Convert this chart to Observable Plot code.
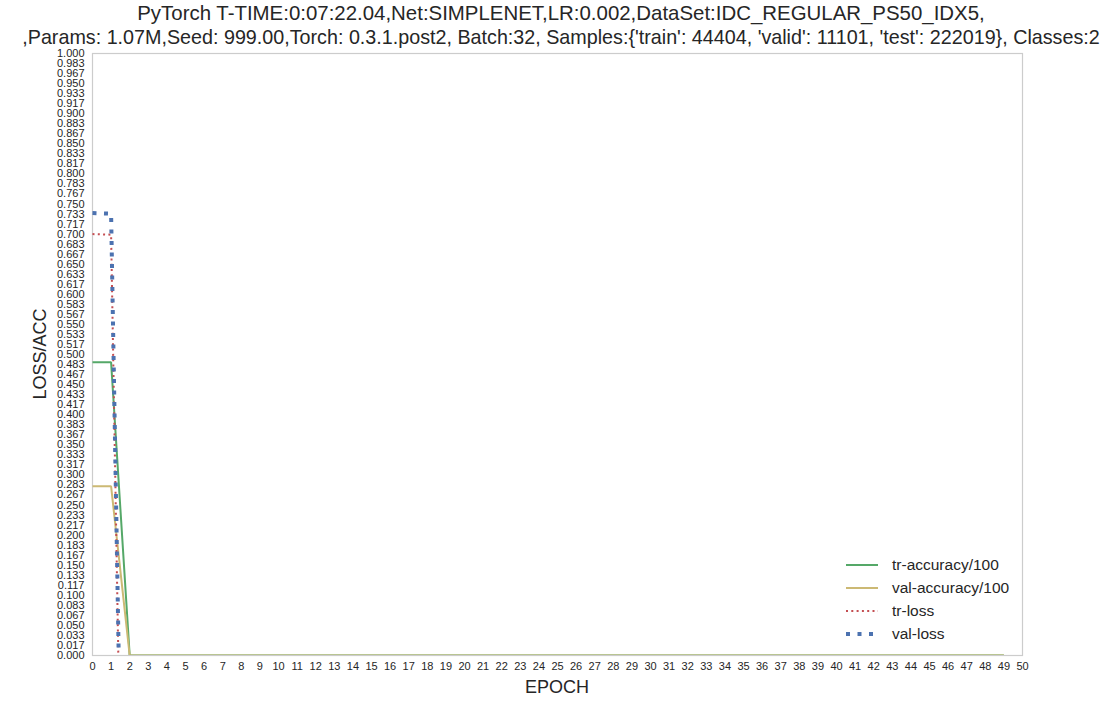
<!DOCTYPE html>
<html>
<head>
<meta charset="utf-8">
<script src="https://cdn.jsdelivr.net/npm/d3@7"></script>
<script src="https://cdn.jsdelivr.net/npm/@observablehq/plot@0.6"></script>
<style>
  html, body { margin: 0; padding: 0; background: #fff; }
  body { font-family: "Liberation Sans", Arial, sans-serif; color: #262626; }
  #wrap { position: relative; width: 1113px; height: 703px; overflow: hidden; }
  #title { height: 48px; width: 1113px; padding-left: 9px; text-align: center; font-size: 20.5px; line-height: 23px; padding-top: 1px; box-sizing: border-box; white-space: nowrap; }
  #title span { display: inline-block; }
  .axlabel { position: absolute; font-size: 18px; white-space: nowrap; }
  #legend { position: absolute; left: 846px; top: 553px; font-size: 15.5px; }
  #legend .row { display: flex; align-items: center; height: 23px; }
  #legend svg { margin-right: 14px; }
</style>
</head>
<body>
<div id="wrap">
  <div id="title"></div>
  <div id="chart"></div>
  <div class="axlabel" id="xlab" style="left:557px; top:677px; transform:translateX(-50%);">EPOCH</div>
  <div class="axlabel" id="ylab" style="left:40px; top:354px; transform:translate(-50%,-50%) rotate(-90deg);">LOSS/ACC</div>
  <div id="legend"></div>
</div>
<script>
// ---- data ----
const titleLines = [
  "PyTorch T-TIME:0:07:22.04,Net:SIMPLENET,LR:0.002,DataSet:IDC_REGULAR_PS50_IDX5,",
  ",Params: 1.07M,Seed: 999.00,Torch: 0.3.1.post2, Batch:32, Samples:{'train': 44404, 'valid': 11101, 'test': 222019}, Classes:2"
];
const epochs = [0,1,2,3,4,5,6,7,8,9,10,11,12,13,14,15,16,17,18,19,20,21,22,23,24,25,26,27,28,29,30,31,32,33,34,35,36,37,38,39,40,41,42,43,44,45,46,47,48,49];
const trAcc  = [0.487,0.487,0,0,0,0,0,0,0,0,0,0,0,0,0,0,0,0,0,0,0,0,0,0,0,0,0,0,0,0,0,0,0,0,0,0,0,0,0,0,0,0,0,0,0,0,0,0,0,0];
const valAcc = [0.281,0.281,0,0,0,0,0,0,0,0,0,0,0,0,0,0,0,0,0,0,0,0,0,0,0,0,0,0,0,0,0,0,0,0,0,0,0,0,0,0,0,0,0,0,0,0,0,0,0,0];
const lossEpochs = [0,1,2];
const trLoss  = [0.700,0.699,-1.10];
const valLoss = [0.735,0.734,-1.06];
const seriesNames = ["tr-accuracy/100","val-accuracy/100","tr-loss","val-loss"];
const seriesColors = ["#55A868","#CCB974","#C44E52","#4C72B0"];
const xTicks = d3.range(0, 51);
const yTicks = d3.range(0, 61).map(i => i / 60);

// ---- build ----
const titleEl = document.getElementById("title");
const titleTargets = [848, 1078];
titleLines.forEach((t, i) => {
  const line = document.createElement("div");
  const span = document.createElement("span");
  span.textContent = t;
  line.appendChild(span);
  titleEl.appendChild(line);
  const w = span.getBoundingClientRect().width;
  if (w > 0) span.style.fontSize = (20.5 * titleTargets[i] / w).toFixed(2) + "px";
});

const styles = [
  {strokeWidth: 2, strokeDasharray: null},
  {strokeWidth: 2, strokeDasharray: null},
  {strokeWidth: 2, strokeDasharray: "2,3.3"},
  {strokeWidth: 4, strokeDasharray: "4,7.5"}
];
const rows = (xs, ys) => xs.map((x, i) => ({x, y: ys[i]}));
const sets = [rows(epochs, trAcc), rows(epochs, valAcc), rows(lossEpochs, trLoss), rows(lossEpochs, valLoss)];

const chart = Plot.plot({
  width: 1113,
  height: 655,
  marginLeft: 92,
  marginRight: 91,
  marginTop: 5,
  marginBottom: 48,
  style: {fontFamily: "'Liberation Sans', Arial, sans-serif", fontSize: "11px", color: "#262626", background: "#fff"},
  x: {domain: [0, 50]},
  y: {domain: [0, 1]},
  marks: [
    Plot.frame({stroke: "#cccccc", strokeWidth: 1.2}),
    Plot.axisX({ticks: xTicks, tickSize: 0, tickPadding: 7, tickFormat: d => String(d), label: null, fontSize: 11}),
    Plot.axisY({ticks: yTicks, tickSize: 0, tickPadding: 8, tickFormat: d3.format(".3f"), label: null, fontSize: 11}),
    ...sets.map((data, i) => Plot.line(data, {
      x: "x", y: "y", stroke: seriesColors[i], strokeWidth: styles[i].strokeWidth,
      strokeDasharray: styles[i].strokeDasharray, strokeLinecap: "butt", strokeLinejoin: "miter", clip: true
    }))
  ]
});
document.getElementById("chart").appendChild(chart);

// legend
const leg = document.getElementById("legend");
seriesNames.forEach((name, i) => {
  const row = document.createElement("div");
  row.className = "row";
  const s = styles[i];
  row.innerHTML = `<svg width="32" height="8"><line x1="0" x2="32" y1="4" y2="4" stroke="${seriesColors[i]}" stroke-width="${s.strokeWidth}" ${s.strokeDasharray ? `stroke-dasharray="${s.strokeDasharray}"` : ""}/></svg><span>${name}</span>`;
  leg.appendChild(row);
});
</script>
</body>
</html>
